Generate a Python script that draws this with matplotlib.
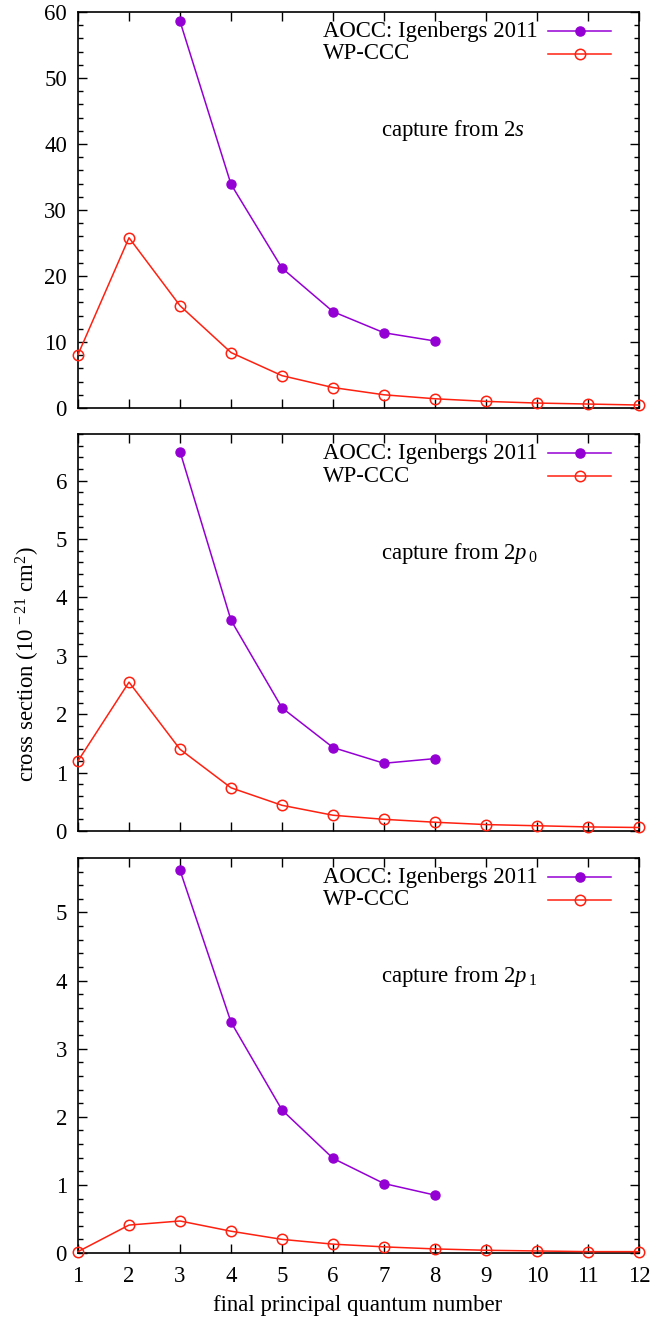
import matplotlib
matplotlib.use('Agg')
import matplotlib.pyplot as plt
from matplotlib.ticker import MultipleLocator

plt.rcParams['font.family'] = ['Liberation Serif', 'DejaVu Serif']
plt.rcParams['mathtext.fontset'] = 'custom'
plt.rcParams['mathtext.rm'] = 'Liberation Serif'
plt.rcParams['mathtext.it'] = 'Liberation Serif:italic'
FS = 16.4

# final principal quantum number
n_aocc = [3, 4, 5, 6, 7, 8]
n_ccc = [1, 2, 3, 4, 5, 6, 7, 8, 9, 10, 11, 12]

# capture from 2s
aocc_2s = [58.6, 33.9, 21.2, 14.6, 11.4, 10.15]
ccc_2s = [8.1, 25.8, 15.5, 8.4, 4.9, 3.1, 2.0, 1.4, 1.0, 0.75, 0.6, 0.45]

# capture from 2p0
aocc_2p0 = [6.5, 3.61, 2.11, 1.43, 1.16, 1.24]
ccc_2p0 = [1.2, 2.55, 1.40, 0.74, 0.44, 0.27, 0.20, 0.15, 0.11, 0.09, 0.07, 0.06]

# capture from 2p1
aocc_2p1 = [5.62, 3.39, 2.10, 1.39, 1.02, 0.85]
ccc_2p1 = [0.02, 0.41, 0.47, 0.32, 0.20, 0.13, 0.09, 0.06, 0.04, 0.03, 0.02, 0.02]

series_labels = ['AOCC: Igenbergs 2011', 'WP-CCC']

panels = [
    (aocc_2s, ccc_2s, 60, 10, 2, r'capture from 2$\mathit{s}$'),
    (aocc_2p0, ccc_2p0, 6.8, 1, 0.2, r'capture from 2$\mathit{p}_{\,0}$'),
    (aocc_2p1, ccc_2p1, 5.8, 1, 0.2, r'capture from 2$\mathit{p}_{\,1}$'),
]

purple = '#9400d3'
red = '#ff2010'

fig = plt.figure(figsize=(6.53, 13.25), dpi=100)
H = 1325.0
W = 653.0
left = 78 / W
width = (639 - 78) / W
boxes = [(12, 408), (434, 831), (858, 1253)]

for i, (aocc, ccc, ymax, major, minor, label) in enumerate(panels):
    top_px, bot_px = boxes[i]
    ax = fig.add_axes([left, 1 - bot_px / H, width, (bot_px - top_px) / H])
    ax.plot(n_aocc, aocc, '-o', color=purple, lw=1.1, ms=6.5,
            clip_on=False, zorder=3)
    ax.plot(n_ccc, ccc, '-o', color=red, lw=1.1, ms=7.5, mfc='none',
            mew=1.1, clip_on=False, zorder=3)
    ax.set_xlim(1, 12)
    ax.set_ylim(0, ymax)
    ax.xaxis.set_major_locator(MultipleLocator(1))
    ax.yaxis.set_major_locator(MultipleLocator(major))
    ax.yaxis.set_minor_locator(MultipleLocator(minor))
    ax.tick_params(which='both', direction='in', top=True, right=True,
                   width=1.0, labelsize=FS)
    ax.tick_params(which='major', length=6.5)
    ax.tick_params(which='minor', length=3.3)
    ax.tick_params(axis='y', pad=8)
    ax.tick_params(axis='x', pad=9)
    for s in ax.spines.values():
        s.set_linewidth(1.2)
    if i < 2:
        ax.tick_params(axis='x', labelbottom=False)

    # gnuplot-style key: left-justified text, sample on the right
    for row, (txt, col, mfc, ms) in enumerate(
            [(series_labels[0], purple, purple, 6.5),
             (series_labels[1], red, 'none', 7.5)]):
        ky = 0.951 - row * 0.057
        ax.text(0.4367, ky, txt, transform=ax.transAxes, ha='left',
                va='center', fontsize=FS)
        ax.plot([0.838, 0.950], [ky, ky], color=col, lw=1.1,
                transform=ax.transAxes, clip_on=False)
        ax.plot([0.894], [ky], 'o', color=col, mfc=mfc, ms=ms, mew=1.1,
                transform=ax.transAxes, clip_on=False)

    ax.text(0.54, 0.70, label, transform=ax.transAxes, ha='left', va='center',
            fontsize=FS)

fig.text(28 / W, 1 - 664 / H, r'cross section (10$^{\,-21}$ cm$^{2}$)',
         rotation=90, ha='center', va='center', fontsize=FS)
fig.text(358 / W, 1 - 1306 / H, 'final principal quantum number',
         ha='center', va='center', fontsize=FS)

fig.savefig('out.png', dpi=100)
